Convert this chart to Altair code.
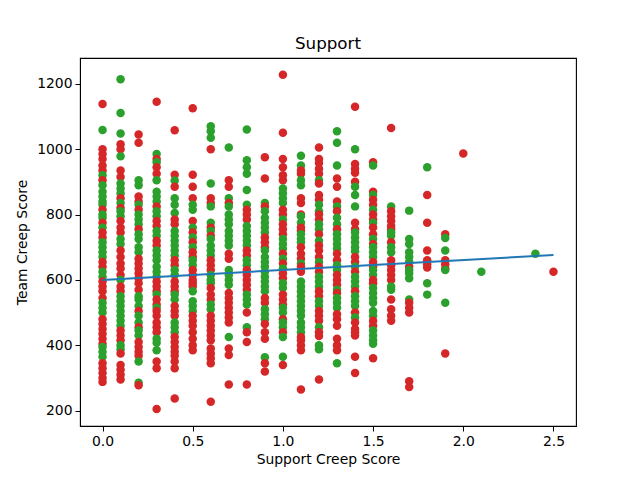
import altair as alt
import pandas as pd

# Green / red points per Support Creep Score column (Team Creep Score values)
g0 = [1059, 920, 890, 870, 855, 840, 830, 800, 790, 760, 715, 700, 685, 670, 625, 610, 530, 515, 500, 395, 380, 365]
r0 = [1138, 1000, 985, 970, 950, 935, 905, 815, 775, 745, 730, 655, 640, 595, 580, 565, 545, 480, 465, 450, 435, 420, 405, 345, 330, 315, 300, 288]
g1 = [1214, 1111, 1048, 978, 895, 880, 865, 835, 810, 795, 725, 710, 600, 550, 535, 520, 505, 490, 475, 460, 400, 388]
r1 = [1015, 1000, 935, 915, 850, 820, 780, 760, 745, 690, 670, 650, 635, 615, 580, 565, 445, 430, 415, 375, 340, 325, 310, 295]
g2 = [905, 890, 830, 800, 785, 770, 740, 725, 700, 685, 550, 540, 520, 490, 470, 445, 430, 350, 285]
r2 = [1045, 1020, 855, 840, 815, 755, 665, 650, 635, 620, 605, 590, 570, 505, 455, 410, 395, 380, 368, 278]
g3 = [985, 960, 905, 870, 855, 840, 810, 795, 750, 735, 690, 675, 660, 640, 625, 610, 555, 515, 420, 408, 385]
r3 = [1145, 970, 945, 925, 825, 780, 765, 720, 705, 595, 580, 565, 540, 525, 505, 490, 470, 455, 440, 350, 330, 205]
g4 = [904, 850, 830, 805, 750, 735, 720, 705, 690, 675, 630, 615, 555, 540, 470, 455, 440]
r4 = [1058, 922, 885, 785, 770, 660, 645, 595, 580, 565, 520, 505, 490, 425, 410, 395, 380, 368, 350, 330, 237]
g5 = [830, 815, 760, 730, 700, 660, 645, 565, 535, 520, 505]
r5 = [1125, 922, 885, 850, 780, 745, 715, 685, 670, 630, 615, 600, 590, 580, 490, 475, 460, 440, 420, 400, 385]
g6 = [1070, 1055, 1035, 895, 825, 775, 750, 725, 705, 690, 675, 615, 600, 590, 525, 510]
r6 = [1000, 850, 835, 760, 735, 660, 645, 630, 575, 555, 540, 490, 475, 460, 445, 430, 415, 390, 375, 360, 345, 227]
g7 = [1005, 850, 825, 800, 785, 770, 750, 735, 720, 705, 630, 615, 600, 585, 425]
r7 = [905, 885, 835, 680, 665, 560, 545, 530, 515, 500, 485, 470, 390, 370, 280]
g8 = [1060, 966, 945, 925, 875, 830, 765, 750, 735, 720, 705, 660, 645, 555, 540, 525, 455]
r8 = [815, 800, 785, 690, 675, 630, 615, 600, 585, 570, 500, 440, 410, 280]
g9 = [835, 810, 790, 775, 760, 745, 690, 670, 655, 640, 625, 610, 595, 580, 565, 510, 495, 480, 363]
r9 = [975, 910, 825, 730, 715, 700, 545, 530, 465, 440, 420, 345, 320]
g10 = [880, 865, 850, 835, 785, 725, 710, 695, 665, 635, 590, 575, 515, 500, 470, 455, 425, 365]
r10 = [1228, 1050, 970, 945, 920, 905, 815, 800, 770, 755, 740, 680, 650, 620, 605, 555, 540, 525, 480, 440, 340]
g11 = [980, 950, 905, 890, 795, 775, 740, 725, 715, 650, 595, 580, 565, 550, 535, 520, 505, 490, 470, 455, 440]
r11 = [935, 925, 850, 835, 800, 760, 750, 700, 680, 665, 640, 625, 425, 415, 400, 385, 265]
g12 = [905, 830, 810, 770, 755, 720, 655, 610, 595, 580, 535, 520, 455, 400, 388]
r12 = [1005, 970, 958, 940, 925, 895, 860, 845, 800, 785, 740, 705, 690, 670, 640, 625, 565, 550, 505, 490, 475, 440, 428, 295]
g13 = [1055, 1020, 950, 825, 790, 770, 740, 725, 710, 695, 645, 630, 570, 545, 530, 515, 345]
r13 = [910, 885, 840, 810, 755, 680, 660, 615, 600, 585, 560, 495, 480, 460, 420, 400, 385]
g14 = [1000, 885, 860, 825, 745, 730, 715, 700, 688, 640, 610, 595, 580, 550, 535, 520, 485]
r14 = [1130, 955, 940, 928, 900, 775, 755, 670, 655, 625, 565, 500, 470, 450, 440, 430, 365, 315]
g15 = [950, 860, 815, 775, 725, 700, 685, 670, 630, 615, 575, 560, 545, 530, 505, 490, 445, 430, 415, 405]
r15 = [960, 870, 845, 830, 800, 785, 760, 740, 710, 655, 640, 600, 590, 475, 460, 360]
g16 = [825, 745, 735, 700, 685, 580, 570]
r16 = [1065, 810, 795, 780, 765, 755, 715, 660, 645, 630, 615, 600, 540, 510, 490, 475]
g17 = [812, 725, 710, 685, 670, 655, 630, 620, 605, 540]
r17 = [640, 530, 515, 500, 290, 272]
g18 = [945, 590, 555]
r18 = [860, 775, 690, 660, 648, 638]
g19 = [728, 690, 630, 530]
r19 = [740, 660, 648, 635, 375]
g20 = []
r20 = [987]
g21 = [625]
r21 = []
g24 = [680]
r24 = []
g25 = []
r25 = [625]

support_values = [0.0, 0.1, 0.2, 0.3, 0.4, 0.5, 0.6, 0.7, 0.8, 0.9, 1.0, 1.1, 1.2,
                  1.3, 1.4, 1.5, 1.6, 1.7, 1.8, 1.9, 2.0, 2.1, 2.4, 2.5]
green_cols = [g0, g1, g2, g3, g4, g5, g6, g7, g8, g9, g10, g11, g12, g13, g14, g15,
              g16, g17, g18, g19, g20, g21, g24, g25]
red_cols = [r0, r1, r2, r3, r4, r5, r6, r7, r8, r9, r10, r11, r12, r13, r14, r15,
            r16, r17, r18, r19, r20, r21, r24, r25]

# Regression line endpoints
fit_x = [0.0, 2.5]
fit_y = [600, 676]

rows = []
for sx, gs, rs in zip(support_values, green_cols, red_cols):
    pts = [(v, "G") for v in gs] + [(v, "R") for v in rs]
    pts.sort(key=lambda p: -p[0])
    for v, c in pts:
        rows.append({"support": sx, "team": v, "result": c})
df = pd.DataFrame(rows)
fit_df = pd.DataFrame({"support": fit_x, "team": fit_y})

FONT = "DejaVu Sans"
xscale = alt.Scale(domain=[-0.125, 2.625], nice=False, zero=False)
yscale = alt.Scale(domain=[153, 1279], nice=False, zero=False)

points = alt.Chart(df).mark_circle(size=72, opacity=1).encode(
    x=alt.X("support:Q", scale=xscale,
            axis=alt.Axis(values=[0, 0.5, 1.0, 1.5, 2.0, 2.5], format=".1f",
                          title="Support Creep Score")),
    y=alt.Y("team:Q", scale=yscale,
            axis=alt.Axis(values=[200, 400, 600, 800, 1000, 1200], format="d",
                          title="Team Creep Score")),
    color=alt.Color("result:N",
                    scale=alt.Scale(domain=["G", "R"], range=["#2ca02c", "#d62728"]),
                    legend=None),
    order=alt.Order("idx:Q"),
).transform_window(idx="row_number()")

line = alt.Chart(fit_df).mark_line(color="#1f77b4", strokeWidth=2).encode(
    x=alt.X("support:Q", scale=xscale),
    y=alt.Y("team:Q", scale=yscale),
)

chart = alt.layer(points, line).properties(
    width=496,
    height=368,
    autosize=alt.AutoSizeParams(type="none"),
    padding={"left": 72, "top": 50, "right": 56, "bottom": 46},
    title=alt.TitleParams("Support", font=FONT, fontSize=16.7, fontWeight="normal",
                          color="black", offset=5),
).configure_view(
    stroke="black", strokeWidth=1.1
).configure_axis(
    grid=False, domainColor="black", tickColor="black", tickSize=5,
    labelFont=FONT, labelFontSize=13.9, labelColor="black", labelPadding=3,
    titleFont=FONT, titleFontSize=13.9, titleColor="black", titleFontWeight="normal",
).configure_axisX(titlePadding=5).configure_axisY(titlePadding=7)

chart.save("out.html", embed_options={"renderer": "svg", "actions": False})
